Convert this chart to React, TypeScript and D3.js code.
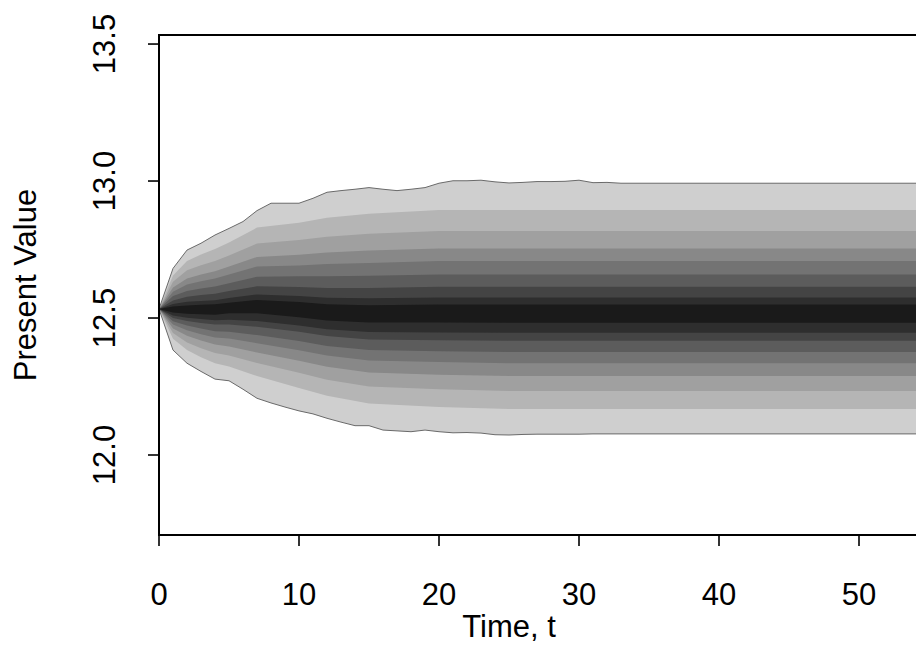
import React from "react";
import * as d3 from "d3";

// outer edge of the fan, read at every time step
const outerTimes = [0, 1, 2, 3, 4, 5, 6, 7, 8, 9, 10, 11, 12, 13, 14, 15, 16, 17, 18, 19, 20, 21, 22, 23, 24, 25, 26, 27, 28, 29, 30, 31, 32, 33, 60];
const q0 = [12.533, 12.681, 12.748, 12.773, 12.803, 12.827, 12.852, 12.892, 12.919, 12.919, 12.919, 12.937, 12.959, 12.965, 12.97, 12.976, 12.97, 12.965, 12.97, 12.976, 12.992, 13.001, 13.001, 13.003, 12.997, 12.993, 12.995, 12.998, 12.998, 12.999, 13.003, 12.994, 12.995, 12.992, 12.992];
const q17 = [12.533, 12.383, 12.335, 12.305, 12.277, 12.271, 12.24, 12.207, 12.19, 12.175, 12.161, 12.15, 12.134, 12.12, 12.107, 12.107, 12.091, 12.088, 12.085, 12.091, 12.085, 12.081, 12.082, 12.08, 12.074, 12.073, 12.075, 12.076, 12.076, 12.076, 12.076, 12.077, 12.077, 12.077, 12.077];

// inner quantile boundaries
const times = [0, 1, 2, 3, 4, 5, 7, 10, 12, 15, 20, 25, 30, 60];
const q1 = [12.533, 12.655, 12.708, 12.732, 12.752, 12.776, 12.83, 12.848, 12.866, 12.881, 12.894, 12.894, 12.894, 12.894];
const q2 = [12.533, 12.632, 12.674, 12.693, 12.708, 12.728, 12.772, 12.785, 12.797, 12.808, 12.818, 12.818, 12.818, 12.818];
const q3 = [12.533, 12.611, 12.644, 12.659, 12.671, 12.688, 12.723, 12.731, 12.739, 12.746, 12.754, 12.754, 12.754, 12.754];
const q4 = [12.533, 12.596, 12.622, 12.634, 12.644, 12.659, 12.688, 12.692, 12.697, 12.701, 12.708, 12.708, 12.708, 12.708];
const q5 = [12.533, 12.58, 12.599, 12.608, 12.615, 12.627, 12.651, 12.652, 12.652, 12.654, 12.659, 12.659, 12.659, 12.659];
const q6 = [12.533, 12.564, 12.578, 12.584, 12.589, 12.599, 12.616, 12.613, 12.61, 12.61, 12.614, 12.614, 12.614, 12.614];
const q7 = [12.533, 12.551, 12.559, 12.562, 12.565, 12.573, 12.586, 12.58, 12.574, 12.572, 12.575, 12.575, 12.575, 12.575];
const q8 = [12.533, 12.542, 12.546, 12.548, 12.55, 12.556, 12.566, 12.558, 12.55, 12.547, 12.549, 12.549, 12.549, 12.549];
const q9 = [12.533, 12.52, 12.516, 12.514, 12.512, 12.517, 12.517, 12.503, 12.491, 12.484, 12.484, 12.483, 12.483, 12.483];
const q10 = [12.533, 12.509, 12.501, 12.496, 12.492, 12.494, 12.489, 12.473, 12.459, 12.449, 12.447, 12.446, 12.446, 12.446];
const q11 = [12.533, 12.5, 12.489, 12.482, 12.476, 12.476, 12.468, 12.45, 12.434, 12.422, 12.419, 12.417, 12.417, 12.417];
const q12 = [12.533, 12.488, 12.473, 12.462, 12.452, 12.45, 12.438, 12.416, 12.398, 12.383, 12.379, 12.376, 12.376, 12.376];
const q13 = [12.533, 12.476, 12.455, 12.441, 12.429, 12.425, 12.408, 12.382, 12.363, 12.345, 12.339, 12.335, 12.335, 12.335];
const q14 = [12.533, 12.462, 12.435, 12.418, 12.403, 12.396, 12.374, 12.344, 12.322, 12.301, 12.293, 12.288, 12.288, 12.288];
const q15 = [12.533, 12.445, 12.411, 12.39, 12.372, 12.363, 12.336, 12.3, 12.275, 12.25, 12.24, 12.234, 12.234, 12.234];
const q16 = [12.533, 12.424, 12.383, 12.357, 12.335, 12.323, 12.288, 12.245, 12.216, 12.188, 12.175, 12.168, 12.168, 12.168];

// nested fan levels: [upper boundary, lower boundary, times], outermost first
const levels = [
  [q0, q17, outerTimes],
  [q1, q16, times],
  [q2, q15, times],
  [q3, q14, times],
  [q4, q13, times],
  [q5, q12, times],
  [q6, q11, times],
  [q7, q10, times],
  [q8, q9, times],
];
const levelColors = ["#cfcfcf", "#b5b5b5", "#a0a0a0", "#888888", "#737373", "#5c5c5c", "#444444", "#2e2e2e", "#1a1a1a"];

const xTicks = [0, 10, 20, 30, 40, 50];
const yTicks = [12.0, 12.5, 13.0, 13.5];
const yTickLabels = ["12.0", "12.5", "13.0", "13.5"];

const W = 916;
const H = 646;
const FONT = "'Liberation Sans', Arial, Helvetica, sans-serif";

export default function App() {
  const plotL = 159;
  const plotT = 35;
  const plotB = 535;
  const x = d3.scaleLinear().domain([0, 60]).range([plotL, plotL + 14 * 60]);
  const y = d3.scaleLinear().domain([11.708, 13.533]).range([plotB, plotT]);
  const plotR = x(60);

  const polys = levels.map(([up, lo, ts], k) => {
    const pts: [number, number][] = [];
    (ts as number[]).forEach((t, i) => pts.push([x(t), y((up as number[])[i])]));
    for (let i = (ts as number[]).length - 1; i >= 0; i--) pts.push([x((ts as number[])[i]), y((lo as number[])[i])]);
    const d = d3.line().curve(d3.curveLinearClosed)(pts) || "";
    return { d, c: levelColors[k] };
  });

  const edge = (vals: number[]) =>
    d3
      .line<number>()
      .x((_, i) => x(outerTimes[i]))
      .y((v) => y(v))(vals) || "";

  return (
    <svg
      width={W}
      height={H}
      style={{ position: "absolute", left: 0, top: 0, background: "#fff" }}
      fontFamily={FONT}
    >
      <rect x={0} y={0} width={W} height={H} fill="#fff" />
      <g>
        {polys.map((p, i) => (
          <path key={i} d={p.d} fill={p.c} stroke="none" />
        ))}
        <path d={edge(q0)} fill="none" stroke="#6a6a6a" strokeWidth={1} />
        <path d={edge(q17)} fill="none" stroke="#6a6a6a" strokeWidth={1} />
      </g>
      {/* box */}
      <rect x={plotL} y={plotT} width={plotR - plotL} height={plotB - plotT} fill="none" stroke="#000" strokeWidth={2} />
      {/* y axis */}
      <line x1={plotL} x2={plotL} y1={y(yTicks[0])} y2={y(yTicks[yTicks.length - 1])} stroke="#000" strokeWidth={2} />
      {yTicks.map((v, i) => (
        <g key={v}>
          <line x1={plotL - 11} x2={plotL} y1={y(v)} y2={y(v)} stroke="#000" strokeWidth={1.6} />
          <text
            transform={`translate(${115},${y(v)}) rotate(-90)`}
            textAnchor="middle"
            fontSize={31}
            fill="#000"
          >
            {yTickLabels[i]}
          </text>
        </g>
      ))}
      {/* x axis */}
      <line x1={x(0)} x2={plotR} y1={plotB} y2={plotB} stroke="#000" strokeWidth={2} />
      {xTicks.map((v) => (
        <g key={v}>
          <line x1={x(v)} x2={x(v)} y1={plotB} y2={plotB + 11} stroke="#000" strokeWidth={1.6} />
          <text x={x(v)} y={605} textAnchor="middle" fontSize={31} fill="#000">
            {String(v)}
          </text>
        </g>
      ))}
      <text x={509} y={637} textAnchor="middle" fontSize={31} fill="#000">
        Time, t
      </text>
      <text transform={`translate(36,${(plotT + plotB) / 2}) rotate(-90)`} textAnchor="middle" fontSize={31} fill="#000">
        Present Value
      </text>
    </svg>
  );
}
